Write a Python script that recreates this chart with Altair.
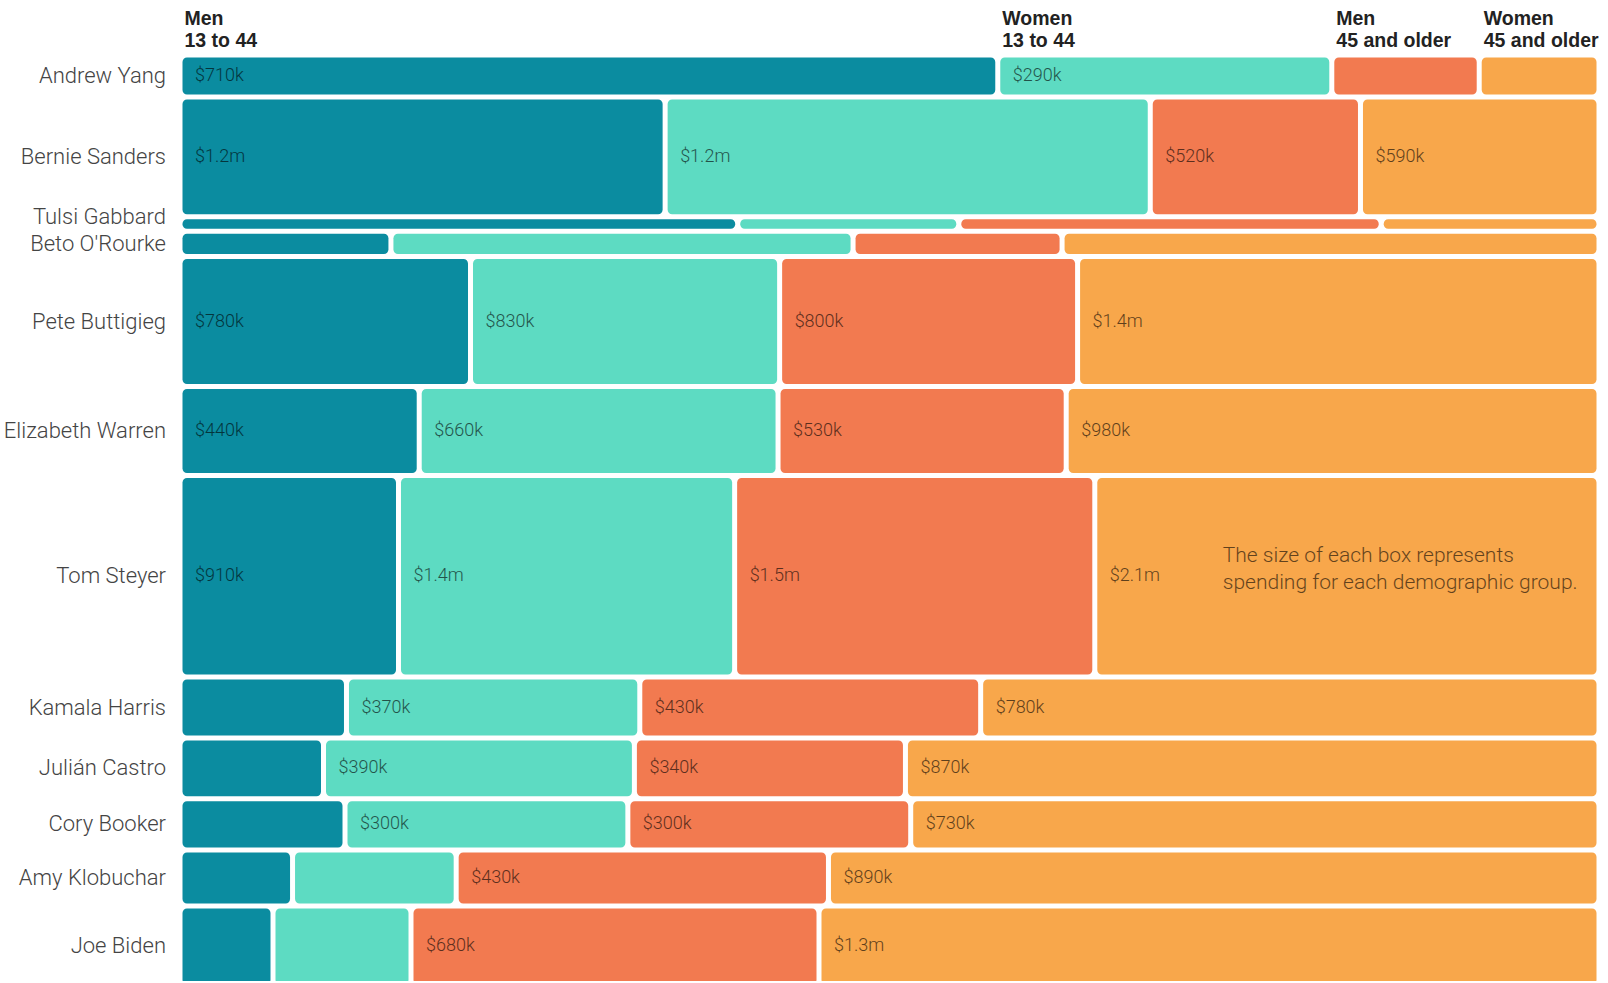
import altair as alt
import pandas as pd

# Candidates, top to bottom
candidates = [
    "Andrew Yang", "Bernie Sanders", "Tulsi Gabbard", "Beto O'Rourke",
    "Pete Buttigieg", "Elizabeth Warren", "Tom Steyer", "Kamala Harris",
    "Julián Castro", "Cory Booker", "Amy Klobuchar", "Joe Biden",
]

# Demographic groups (column order) and their colours
group_keys = ["men_young", "women_young", "men_old", "women_old"]
header_line1 = ["Men", "Women", "Men", "Women"]
header_line2 = ["13 to 44", "13 to 44", "45 and older", "45 and older"]
group_colors = ["#0b8ca0", "#5ddbc2", "#f27a50", "#f8a74b"]

# Ad spending per group, in thousands of dollars
men_young   = [710, 1200, 169, 110, 780, 440, 910, 210, 180, 175, 130, 155]
women_young = [290, 1200, 67, 241, 830, 660, 1400, 370, 390, 300, 189, 230]
men_old     = [128, 520, 128, 109, 800, 530, 1500, 430, 340, 300, 430, 680]
women_old   = [104, 590, 66, 280, 1400, 980, 2100, 780, 870, 730, 890, 1300]

# Whether a box is large enough to carry its dollar label
men_young_lab   = [1, 1, 0, 0, 1, 1, 1, 0, 0, 0, 0, 0]
women_young_lab = [1, 1, 0, 0, 1, 1, 1, 1, 1, 1, 0, 0]
men_old_lab     = [0, 1, 0, 0, 1, 1, 1, 1, 1, 1, 1, 1]
women_old_lab   = [0, 1, 0, 0, 1, 1, 1, 1, 1, 1, 1, 1]

note = "The size of each box represents\nspending for each demographic group."


def money(v):
    return f"${v / 1000:.1f}m" if v >= 1000 else f"${v}k"


series = [men_young, women_young, men_old, women_old]
flags = [men_young_lab, women_young_lab, men_old_lab, women_old_lab]

PLOT_W, PLOT_H = 1419, 926
PX_PER_K = 0.0341
y_max = PLOT_H / PX_PER_K

# Mosaic layout: row height ~ candidate total, box width ~ share of that total
cells, names = [], []
y_cum = 0
for i, name in enumerate(candidates):
    vals = [s[i] for s in series]
    total = sum(vals)
    x_cum = 0
    for j, key in enumerate(group_keys):
        cells.append(dict(
            candidate=name, group=key, value=vals[j],
            x0=x_cum / total, x1=(x_cum + vals[j]) / total,
            y0=y_cum, y1=y_cum + total, ymid=y_cum + total / 2,
            label=money(vals[j]) if flags[j][i] else "",
            h1=header_line1[j], h2=header_line2[j],
        ))
        x_cum += vals[j]
    # very thin rows: lift the name a little so neighbouring names don't collide
    shift = -7 / PX_PER_K if total * PX_PER_K < 20 else 0
    names.append(dict(candidate=name, ymid=y_cum + total / 2 + shift))
    y_cum += total

cells = pd.DataFrame(cells)
names = pd.DataFrame(names)
headers = cells[cells.candidate == candidates[0]]
note_df = cells[(cells.candidate == "Tom Steyer") & (cells.group == "women_old")].assign(note=note)

x_enc = alt.X("x0:Q", scale=alt.Scale(domain=[0, 1], nice=False, zero=False), axis=None)
y_scale = alt.Scale(domain=[0, y_max], reverse=True, nice=False, zero=False)

boxes = alt.Chart(cells).mark_rect(
    cornerRadius=4.5, xOffset=2.5, x2Offset=-2.5, yOffset=2.5, y2Offset=-2.5
).encode(
    x=x_enc,
    x2="x1:Q",
    y=alt.Y("y0:Q", scale=y_scale, axis=None),
    y2="y1:Q",
    color=alt.Color("group:N", scale=alt.Scale(domain=group_keys, range=group_colors), legend=None),
)

values = alt.Chart(cells).transform_filter("datum.label != ''").mark_text(
    align="left", baseline="middle", xOffset=15, fontSize=18,
    font="Roboto", fontWeight=300, color="#000000", opacity=0.62,
).encode(
    x=x_enc,
    y=alt.Y("ymid:Q", scale=y_scale, axis=None),
    text="label:N",
)

row_names = alt.Chart(names).mark_text(
    align="right", baseline="middle", fontSize=22,
    font="Roboto", fontWeight=300, color="#444444",
).encode(
    x=alt.value(-14),
    y=alt.Y("ymid:Q", scale=y_scale, axis=None),
    text="candidate:N",
)

head_style = dict(align="left", baseline="middle", xOffset=4.5, fontSize=19.5,
                  font="Liberation Sans", fontWeight="bold", color="#222222")
head1 = alt.Chart(headers).mark_text(**head_style).encode(
    x=x_enc, y=alt.value(-36), text="h1:N")
head2 = alt.Chart(headers).mark_text(**head_style).encode(
    x=x_enc, y=alt.value(-14), text="h2:N")

annotation = alt.Chart(note_df).mark_text(
    align="left", baseline="middle", lineBreak="\n", lineHeight=26.5,
    xOffset=128, yOffset=-20, fontSize=21, font="Roboto", fontWeight=300,
    color="#000000", opacity=0.6,
).encode(
    x=x_enc,
    y=alt.Y("ymid:Q", scale=y_scale, axis=None),
    text="note:N",
)

chart = alt.layer(boxes, values, row_names, head1, head2, annotation).properties(
    width=PLOT_W,
    height=PLOT_H,
    padding={"left": 180, "top": 55, "right": 5, "bottom": 0},
    autosize=alt.AutoSizeParams(type="none"),
    background="#ffffff",
).configure_view(stroke=None)

chart.save("out.html", embed_options={"renderer": "svg", "actions": False})
